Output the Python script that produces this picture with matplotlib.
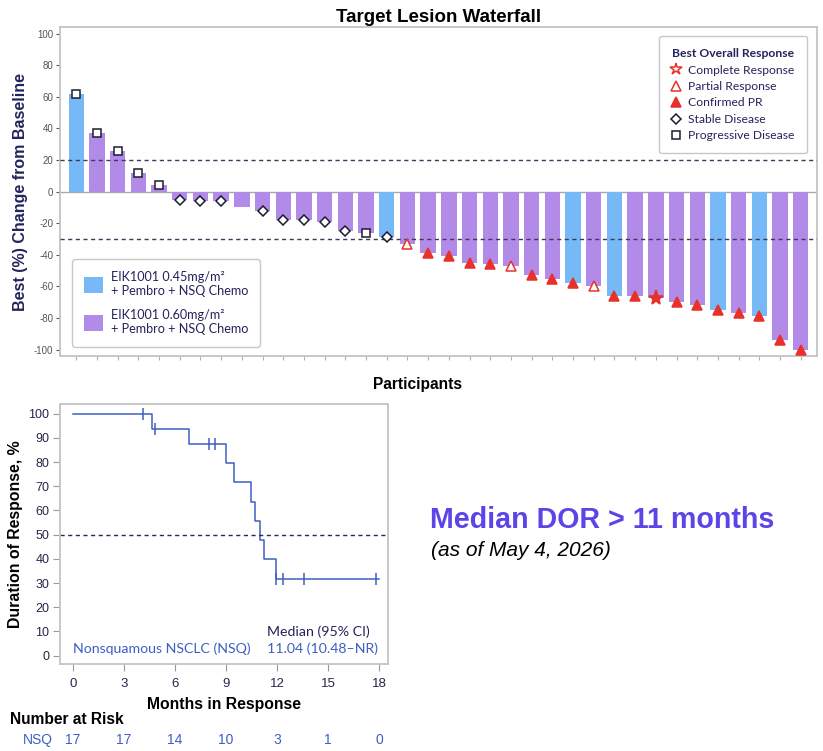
import matplotlib
matplotlib.use("Agg")
import matplotlib.pyplot as plt
import matplotlib.transforms as mtransforms
from matplotlib.patches import Patch
from matplotlib.lines import Line2D

plt.rcParams['font.family'] = ['Liberation Sans', 'DejaVu Sans']
plt.rcParams['axes.unicode_minus'] = False

# Waterfall data (one bar per participant, sorted)
values = [62, 37, 26, 12, 4, -5, -6, -6, -10, -12, -18, -18, -19, -25, -26,
          -29, -33, -39, -41, -45, -46, -47, -53, -55, -58, -60, -66, -66,
          -67, -70, -72, -75, -77, -79, -94, -100]
arms = ['045', '060', '060', '060', '060', '060', '060', '060', '060', '060',
        '060', '060', '060', '060', '060', '045', '060', '060', '060', '060',
        '060', '060', '060', '060', '045', '060', '045', '060', '060', '060',
        '060', '045', '060', '045', '060', '060']
responses = ['PD', 'PD', 'PD', 'PD', 'PD', 'SD', 'SD', 'SD', '', 'SD', 'SD',
             'SD', 'SD', 'SD', 'PD', 'SD', 'PR', 'CPR', 'CPR', 'CPR', 'CPR',
             'PR', 'CPR', 'CPR', 'CPR', 'PR', 'CPR', 'CPR', 'CR', 'CPR', 'CPR',
             'CPR', 'CPR', 'CPR', 'CPR', 'CPR']
arm_labels = {'045': 'EIK1001 0.45mg/m²\n+ Pembro + NSQ Chemo',
              '060': 'EIK1001 0.60mg/m²\n+ Pembro + NSQ Chemo'}
resp_labels = {'CR': 'Complete Response', 'PR': 'Partial Response',
               'CPR': 'Confirmed PR', 'SD': 'Stable Disease',
               'PD': 'Progressive Disease'}

# Kaplan-Meier duration of response
km_times = [0, 4.64, 6.80, 8.99, 9.50, 10.48, 10.73, 11.01, 11.24, 11.95, 18.0]
km_surv = [100, 93.75, 87.5, 79.5, 71.6, 63.6, 55.7, 47.7, 39.8, 31.8, 31.8]
cens_times = [4.15, 4.84, 7.99, 8.36, 11.95, 12.36, 13.59, 17.80]
cens_surv = [100, 93.75, 87.5, 87.5, 31.8, 31.8, 31.8, 31.8]
risk_months = [0, 3, 6, 9, 12, 15, 18]
at_risk = [17, 17, 14, 10, 3, 1, 0]

BLUE_BAR = '#77b9f6'
PURPLE_BAR = '#b28ae8'
RED = '#e8312a'
NAVY = '#24235c'
KM_BLUE = '#3d5fc4'
SPINE = '#c4c4c4'
LEG_FONT = ['Lato', 'DejaVu Sans']

arm_colors = {'045': BLUE_BAR, '060': PURPLE_BAR}
marker_style = {
    'CR': dict(marker='*', color=RED, mfc=RED, ms=11),
    'PR': dict(marker='^', color=RED, mfc='white', ms=7),
    'CPR': dict(marker='^', color=RED, mfc=RED, ms=7),
    'SD': dict(marker='D', color='#1c1c30', mfc='white', ms=5),
    'PD': dict(marker='s', color='#1c1c30', mfc='white', ms=5.5),
}

fig = plt.figure(figsize=(8.23, 7.51), dpi=100)
W, H = 823, 751

# ---------------- waterfall ----------------
ax = fig.add_axes([60.3 / W, 1 - 356 / H, 756.4 / W, 328.7 / H])
x = list(range(len(values)))
ax.bar(x, values, width=0.74, color=[arm_colors[a] for a in arms], zorder=2)
for i, (v, r) in enumerate(zip(values, responses)):
    if r:
        st = marker_style[r]
        ax.plot(i, v, linestyle='none', marker=st['marker'], ms=st['ms'],
                mec=st['color'], mfc=st['mfc'], mew=1.1, zorder=4)
ax.axhline(0, color='#a9a9a9', lw=1, zorder=1)
ax.axhline(20, color='#3c3c5a', lw=1, ls=(0, (3, 2.5)), zorder=3)
ax.axhline(-30, color='#3c3c5a', lw=1, ls=(0, (3, 2.5)), zorder=3)
ax.set_xlim(-0.77, 35.77)
ax.set_ylim(-104, 104)
ax.set_yticks(range(-100, 101, 20))
ax.set_xticks(x)
ax.set_xticklabels([])
ax.tick_params(axis='y', labelsize=7, colors='#555555', length=3, width=0.8,
               pad=2)
ax.tick_params(axis='x', colors='#b0b0b0', length=3, width=0.8)
for sp in ax.spines.values():
    sp.set_color(SPINE)
    sp.set_linewidth(1.3)
ax.set_title('Target Lesion Waterfall', fontsize=13.5, fontweight='bold',
             pad=4)
ax.set_ylabel('Best (%) Change from Baseline', fontsize=11.5,
              fontweight='bold', color=NAVY, labelpad=4)
ax.set_xlabel('Participants', fontsize=11.2, fontweight='bold', labelpad=10)
ax.xaxis.set_label_coords((417 - 60.3) / 756.4, -0.063)

arm_handles = [Patch(facecolor=arm_colors[k], edgecolor='none') for k in arm_labels]
leg1 = ax.legend(arm_handles, list(arm_labels.values()), loc='lower left',
                 bbox_to_anchor=(72 / W, 1 - 347 / H),
                 bbox_transform=fig.transFigure, borderaxespad=0,
                 prop={'family': LEG_FONT, 'size': 9.1}, handlelength=1.5,
                 handleheight=1.5, labelspacing=0.95, borderpad=0.95,
                 handletextpad=0.6, edgecolor='#c8c8c8', framealpha=1)
leg1.get_frame().set_linewidth(1)
for t in leg1.get_texts():
    t.set_color(NAVY)
    t.set_linespacing(1.2)
ax.add_artist(leg1)

resp_order = ['CR', 'PR', 'CPR', 'SD', 'PD']
resp_handles = []
for k in resp_order:
    st = marker_style[k]
    ms = 9 if k == 'CR' else st['ms']
    resp_handles.append(Line2D([], [], linestyle='none', marker=st['marker'],
                               ms=ms, mec=st['color'],
                               mfc='white' if k == 'CR' else st['mfc'],
                               mew=1.1))
leg2 = ax.legend(resp_handles, [resp_labels[k] for k in resp_order],
                 loc='upper right', bbox_to_anchor=(806.7 / W, 1 - 36 / H),
                 bbox_transform=fig.transFigure, borderaxespad=0,
                 title='Best Overall Response',
                 title_fontproperties={'family': LEG_FONT, 'size': 8.7,
                                       'weight': 'bold'},
                 prop={'family': LEG_FONT, 'size': 8.7}, handlelength=0.8,
                 handletextpad=0.6, labelspacing=0.45, borderpad=1.0,
                 edgecolor='#c8c8c8', framealpha=1)
leg2.get_frame().set_linewidth(1)
leg2.get_title().set_color(NAVY)
for t in leg2.get_texts():
    t.set_color(NAVY)

# ---------------- Kaplan-Meier ----------------
km = fig.add_axes([60.3 / W, 1 - 664.3 / H, 327.4 / W, 260.3 / H])
km.step(km_times, km_surv, where='post', color=KM_BLUE, lw=1.1)
km.plot(cens_times, cens_surv, linestyle='none', marker='|', ms=8,
        mew=1.1, color=KM_BLUE)
km.axhline(50, color='#2a2a50', lw=1, ls=(0, (3, 2.5)))
km.set_xlim(-0.73, 18.5)
km.set_ylim(-3.6, 104)
km.set_xticks(risk_months)
km.set_yticks(range(0, 101, 10))
km.tick_params(labelsize=9, colors='#9a9a9a', labelcolor='#26264a',
               length=5, width=0.8, pad=3)
km.tick_params(axis='x', labelsize=9.5, pad=5)
for sp in km.spines.values():
    sp.set_color(SPINE)
    sp.set_linewidth(1.3)
km.set_ylabel('Duration of Response, %', fontsize=11.4, fontweight='bold',
              labelpad=4)
km.set_xlabel('Months in Response', fontsize=11.3, fontweight='bold',
              labelpad=5)
km.text(0.04, 0.06, 'Nonsquamous NSCLC (NSQ)', transform=km.transAxes,
        family=LEG_FONT, fontsize=10.2, color=KM_BLUE, va='center')
km.text(0.63, 0.125, 'Median (95% CI)', transform=km.transAxes,
        family=LEG_FONT, fontsize=10.2, color=NAVY, va='center')
km.text(0.63, 0.06, '11.04 (10.48–NR)', transform=km.transAxes,
        family=LEG_FONT, fontsize=10.2, color=KM_BLUE, va='center')

# number at risk
risk_tr = mtransforms.blended_transform_factory(km.transData, fig.transFigure)
for m, n in zip(risk_months, at_risk):
    km.text(m, 1 - 740 / H, str(n), transform=risk_tr, ha='center',
            va='center', fontsize=10, color=KM_BLUE, clip_on=False)
fig.text(10 / W, 1 - 720 / H, 'Number at Risk', fontsize=11.2,
         fontweight='bold', va='center')
fig.text(53 / W, 1 - 740 / H, 'NSQ', fontsize=10, color=KM_BLUE,
         ha='right', va='center')

# headline
fig.text(430 / W, 1 - 520 / H, 'Median DOR > 11 months', fontsize=20.6,
         fontweight='bold', color='#5b45e8', va='center')
fig.text(431 / W, 1 - 551 / H, '(as of May 4, 2026)', fontsize=15,
         style='italic', va='center')

fig.savefig('out.png', dpi=100)
